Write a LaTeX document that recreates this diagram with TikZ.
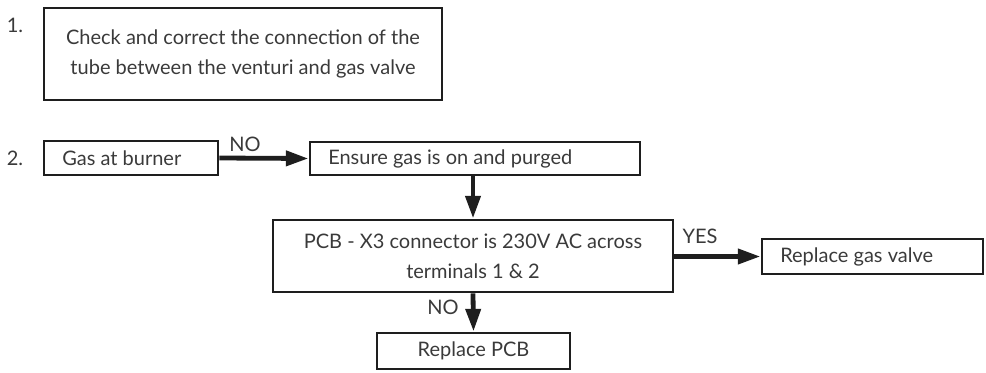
\documentclass[tikz,border=0pt]{standalone}
\usepackage{fontspec}
\setmainfont{Lato}
\usetikzlibrary{arrows.meta}
\definecolor{txt}{HTML}{3A3A3A}
\definecolor{edge}{HTML}{1E1E1E}
\tikzset{
  box/.style={draw=edge, line width=2.2pt, inner sep=0pt, text=txt, font=\fontsize{15}{22.5}\selectfont},
  lbl/.style={text=txt, inner sep=0pt, font=\fontsize{15}{18}\selectfont},
  flow/.style={draw=edge, line width=3.6pt, -{Triangle[length=17pt,width=11pt]}},
}
\begin{document}
\begin{tikzpicture}[x=0.75pt,y=-0.75pt]
\useasboundingbox (0,0) rectangle (986,372);
% step numbers
\node[lbl] (s1) at (15,25) {1.};
\node[lbl] (s2) at (15,158) {2.};
% box 1
\node[box, minimum width=398*0.75pt, minimum height=92*0.75pt, align=center] (b1) at (243,54)
  {Check and correct the connection of the\\tube between the venturi and gas valve};
% row 2
\node[box, minimum width=174*0.75pt, minimum height=34*0.75pt] (gas) at (131,158) {};
\node[lbl, anchor=west] (gast) at (62,158) {Gas at burner};
\node[box, minimum width=330*0.75pt, minimum height=33*0.75pt] (ens) at (475,158.5) {};
\node[lbl, anchor=west] (enst) at (328,158.5) {Ensure gas is on and purged};
% PCB
\node[box, minimum width=400*0.75pt, minimum height=72*0.75pt, align=center] (pcb) at (473,256)
  {PCB - X3 connector is 230V AC across\\terminals 1 \& 2};
% gas valve
\node[box, minimum width=221*0.75pt, minimum height=35*0.75pt] (gv) at (872.5,256.5) {};
\node[lbl, anchor=west] (gvt) at (780,256.5) {Replace gas valve};
% replace PCB
\node[box, minimum width=193*0.75pt, minimum height=36*0.75pt] (rp) at (473.5,351) {Replace PCB};
% connectors
\draw[flow] (gas.east) -- (ens.west);
\node[lbl] (no1) at (245,144) {NO};
\draw[flow] (ens.south -| pcb.north) -- (pcb.north);
\draw[flow] (pcb.east |- gv.west) -- (gv.west);
\node[lbl] (yes) at (700,236) {YES};
\draw[flow] (pcb.south) -- (rp.north);
\node[lbl] (no2) at (443,307) {NO};
\end{tikzpicture}
\end{document}
